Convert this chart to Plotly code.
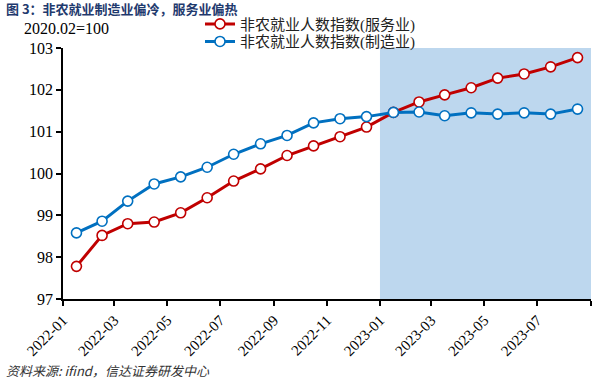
import plotly.graph_objects as go

months = ["2022-01", "2022-02", "2022-03", "2022-04", "2022-05", "2022-06", "2022-07",
          "2022-08", "2022-09", "2022-10", "2022-11", "2022-12", "2023-01", "2023-02",
          "2023-03", "2023-04", "2023-05", "2023-06", "2023-07", "2023-08"]
services = [97.78, 98.52, 98.80, 98.84, 99.06, 99.42, 99.82, 100.11, 100.43, 100.66,
            100.88, 101.11, 101.46, 101.71, 101.88, 102.05, 102.28, 102.38, 102.55, 102.77]
manufacturing = [98.58, 98.86, 99.34, 99.75, 99.92, 100.15, 100.46, 100.71, 100.91, 101.21,
                 101.31, 101.36, 101.46, 101.47, 101.38, 101.45, 101.42, 101.45, 101.42, 101.54]
tick_vals = ["2022-01-01", "2022-03-01", "2022-05-01", "2022-07-01", "2022-09-01",
             "2022-11-01", "2023-01-01", "2023-03-01", "2023-05-01", "2023-07-01", "2023-09-01"]
tick_text = ["2022-01", "2022-03", "2022-05", "2022-07", "2022-09",
             "2022-11", "2023-01", "2023-03", "2023-05", "2023-07", ""]
y_ticks = [97, 98, 99, 100, 101, 102, 103]

title_text = "图 3：非农就业制造业偏冷，服务业偏热"
unit_text = "2020.02=100"
source_text = "资料来源: ifind，信达证券研发中心"
name_services = "非农就业人数指数(服务业)"
name_manufacturing = "非农就业人数指数(制造业)"

RED = "#C00000"
BLUE = "#0070C0"
SERIF = "Liberation Serif, Noto Sans CJK SC, serif"

fig = go.Figure()
for name, vals, col, lg in [(name_services, services, RED, "legend"),
                            (name_manufacturing, manufacturing, BLUE, "legend2")]:
    fig.add_trace(go.Scatter(
        x=months, y=vals, name=name, mode="lines+markers", legend=lg,
        xperiod="M1", xperiodalignment="middle",
        line=dict(color=col, width=3),
        marker=dict(size=10, color="white", line=dict(color=col, width=1.6)),
    ))

fig.add_shape(type="rect", xref="x", yref="y", x0="2023-01-01", x1="2023-09-01",
              y0=97, y1=103, fillcolor="#BDD7EE", line=dict(width=0), layer="below")

PW, PH, PL, PB = 528, 250.4, 63, 298.7
leg_common = dict(xanchor="left", yanchor="middle",
                  font=dict(family=SERIF, size=15, color="#222222"),
                  bgcolor="rgba(0,0,0,0)", itemwidth=30)

fig.update_layout(
    width=612, height=380,
    margin=dict(l=63, r=21, t=48, b=81, autoexpand=False),
    paper_bgcolor="white", plot_bgcolor="white",
    font=dict(family=SERIF, size=15, color="black"),
    showlegend=True,
    legend=dict(x=(200 - PL) / PW, y=(PB - 24.5) / PH, **leg_common),
    legend2=dict(x=(200 - PL) / PW, y=(PB - 42) / PH, **leg_common),
    xaxis=dict(type="date", range=["2022-01-01", "2023-09-01"], automargin=False,
               tickvals=tick_vals, ticktext=tick_text, tickangle=-45,
               showline=True, linecolor="black", linewidth=1.5,
               ticks="outside", ticklen=5, tickwidth=1.5, tickcolor="black",
               showgrid=False, zeroline=False,
               tickfont=dict(family=SERIF, size=15)),
    yaxis=dict(range=[97, 103], tickvals=y_ticks, automargin=False,
               showline=True, linecolor="black", linewidth=1.5,
               ticks="outside", ticklen=5, tickwidth=1.5, tickcolor="black",
               showgrid=False, zeroline=False,
               tickfont=dict(family=SERIF, size=16)),
)

fig.add_annotation(text="<b>" + title_text + "</b>", xref="paper", yref="paper",
                   x=(4 - PL) / PW, y=(PB - 9) / PH, xanchor="left", yanchor="middle",
                   showarrow=False, font=dict(family="Noto Sans CJK SC", size=13, color="#1F3A6E"))
fig.add_annotation(text=unit_text, xref="paper", yref="paper",
                   x=(22 - PL) / PW, y=(PB - 28.5) / PH, xanchor="left", yanchor="middle",
                   showarrow=False, font=dict(family=SERIF, size=16, color="black"))
fig.add_annotation(text="<i>" + source_text + "</i>", xref="paper", yref="paper",
                   x=(4 - PL) / PW, y=(PB - 370) / PH, xanchor="left", yanchor="middle",
                   showarrow=False, font=dict(family="Noto Sans CJK SC", size=13, color="#333333"))

fig.write_html("out.html", config={"displayModeBar": False},
               post_script="document.body.style.margin='0';document.body.style.overflow='hidden';")
